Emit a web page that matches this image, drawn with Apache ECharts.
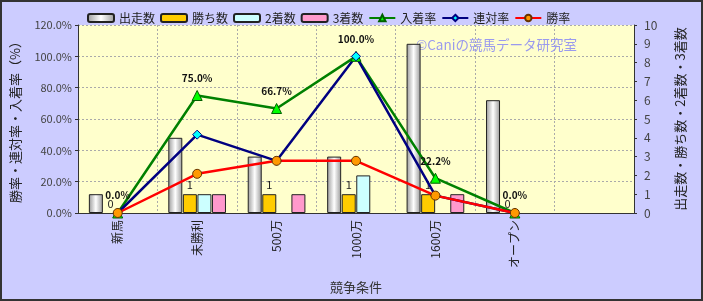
<!DOCTYPE html>
<html><head><meta charset="utf-8">
<script src="https://cdn.jsdelivr.net/npm/echarts@6/dist/echarts.min.js"></script>
<style>html,body{margin:0;padding:0;background:#ccccff}#c{width:703px;height:301px}</style>
</head><body><div id="c"></div>
<script>
const categories = ['新馬','未勝利','500万','1000万','1600万','オープン',''];
const starts = [1,4,3,3,9,6];
const wins = [0,1,1,1,1,0];
const seconds = [0,1,0,2,0,0];
const thirds = [0,1,1,0,1,0];
const placeRate = [0,75.0,66.7,100.0,22.2,0];
const quinellaRate = [0,50.0,33.3,100.0,11.1,0];
const winRate = [0,25.0,33.3,33.3,11.1,0];
const leftTicks = {min:0,max:120,interval:20};
const rightTicks = {min:0,max:10,interval:1};

const F = '"Noto Sans CJK JP","Noto Sans",sans-serif';
const chart = echarts.init(document.getElementById('c'));
const grad = (a,b)=>({type:'linear',x:0,y:0,x2:1,y2:0,colorStops:[{offset:0,color:a},{offset:0.5,color:b},{offset:1,color:a}]});
const items = arr => arr.map(v=>({value:v,itemStyle:{borderWidth:v===0?0:1}}));
const barBase = {type:'bar',yAxisIndex:1,barWidth:14,barGap:'4%'};
const grid = {color:'#aaa',type:[2,2]};
chart.setOption({
  animation:false,
  backgroundColor:'#ccccff',
  textStyle:{fontFamily:F},
  legend:{left:82,top:7,itemGap:5,itemWidth:26,itemHeight:8,textStyle:{fontSize:12,color:'#222',fontFamily:F},
    data:[{name:'出走数',icon:'roundRect'},{name:'勝ち数',icon:'roundRect'},{name:'2着数',icon:'roundRect'},{name:'3着数',icon:'roundRect'},'入着率','連対率','勝率']},
  grid:{left:78,right:69,top:25,bottom:88,show:true,backgroundColor:'#ffffcc',borderWidth:0},
  xAxis:{type:'category',data:categories,name:'競争条件',nameLocation:'middle',nameGap:68,
    nameTextStyle:{fontSize:13,color:'#333'},
    axisLine:{lineStyle:{color:'#333'}},axisTick:{show:false},
    splitLine:{show:true,lineStyle:grid},
    axisLabel:{rotate:90,fontSize:12,color:'#222',margin:7,interval:0}},
  yAxis:[
    {type:'value',min:leftTicks.min,max:leftTicks.max,interval:leftTicks.interval,
     name:'勝率・連対率・入着率（%）',nameLocation:'middle',nameRotate:90,nameGap:56,
     nameTextStyle:{fontSize:13,color:'#222'},
     axisLine:{show:true,lineStyle:{color:'#333'}},axisTick:{show:true,length:3},
     axisLabel:{formatter:v=>v.toFixed(1)+'%',fontSize:11,color:'#444',margin:6},
     splitLine:{lineStyle:grid}},
    {type:'value',min:rightTicks.min,max:rightTicks.max,interval:rightTicks.interval,
     name:'出走数・勝ち数・2着数・3着数',nameLocation:'middle',nameRotate:90,nameGap:40,
     nameTextStyle:{fontSize:13,color:'#222'},
     axisLine:{show:true,lineStyle:{color:'#333'}},axisTick:{show:true,length:3},
     axisLabel:{fontSize:12,color:'#444',margin:10},
     splitLine:{show:false}}
  ],
  graphic:[
    {type:'text',left:416,top:38,z:1,style:{text:'©Caniの競馬データ研究室',fontSize:13.5,fill:'#9a9aee',fontFamily:F}},
    {type:'rect',z:100,shape:{x:1,y:1,width:701,height:299},style:{fill:'none',stroke:'#333',lineWidth:2}}
  ],
  series:[
    Object.assign({},barBase,{name:'出走数',data:items(starts),itemStyle:{color:grad('#999','#fff'),borderColor:'#222',borderWidth:1}}),
    Object.assign({},barBase,{name:'勝ち数',data:items(wins),itemStyle:{color:'#ffcc00',borderColor:'#222',borderWidth:1},
      label:{show:true,position:'top',distance:4,fontSize:11,color:'#222'}}),
    Object.assign({},barBase,{name:'2着数',data:items(seconds),itemStyle:{color:'#ccffff',borderColor:'#222',borderWidth:1}}),
    Object.assign({},barBase,{name:'3着数',data:items(thirds),itemStyle:{color:'#ff99cc',borderColor:'#222',borderWidth:1}}),
    {type:'line',name:'入着率',data:placeRate,yAxisIndex:0,symbol:'triangle',symbolSize:10,
      lineStyle:{color:'#008000',width:2.5},itemStyle:{color:'#00ff00',borderColor:'#006000',borderWidth:1},
      label:{show:true,position:'top',distance:7,fontSize:10,fontWeight:'bold',color:'#111',formatter:p=>p.value.toFixed(1)+'%'}},
    {type:'line',name:'連対率',data:quinellaRate,yAxisIndex:0,symbol:'diamond',symbolSize:9,
      lineStyle:{color:'#000080',width:2.5},itemStyle:{color:'#00ffff',borderColor:'#000080',borderWidth:1}},
    {type:'line',name:'勝率',data:winRate,yAxisIndex:0,symbol:'circle',symbolSize:9,
      lineStyle:{color:'#ff0000',width:2.5},itemStyle:{color:'#ff9900',borderColor:'#663300',borderWidth:1}}
  ]
});
</script></body></html>
